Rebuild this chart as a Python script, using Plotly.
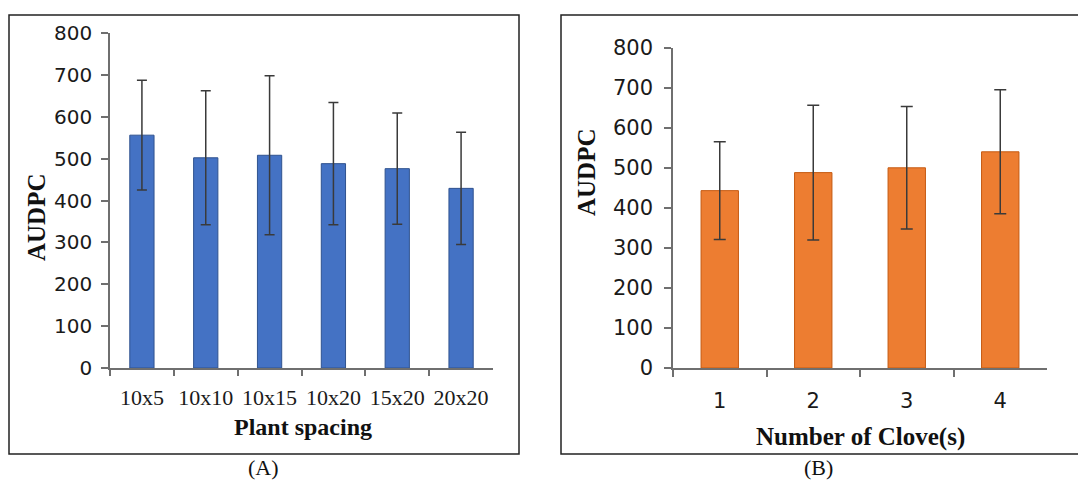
import plotly.graph_objects as go

# Panel A data
spacing = ["10x5", "10x10", "10x15", "10x20", "15x20", "20x20"]
audpc_a = [556, 502, 508, 488, 476, 429]
err_a = [131, 160, 190, 146, 133, 134]

# Panel B data
cloves = ["1", "2", "3", "4"]
audpc_b = [443, 488, 500, 540]
err_b = [122, 168, 153, 155]

# page body has an 8px margin; size the figure so the page fits the window
OFF = 8
W, H = 1086 - 2 * OFF, 489 - 2 * OFF

def px(x):
    return (x - OFF) / W

def py(y):
    return 1 - (y - OFF) / H

fig = go.Figure()

fig.add_trace(go.Bar(
    x=spacing, y=audpc_a, xaxis="x", yaxis="y", width=0.38,
    marker=dict(color="#4472C4", line=dict(color="#2F528F", width=1)),
    error_y=dict(type="data", array=err_a, color="#3a3a3a", thickness=1.5, width=5),
    showlegend=False,
))
fig.add_trace(go.Bar(
    x=cloves, y=audpc_b, xaxis="x2", yaxis="y2", width=0.40,
    marker=dict(color="#ED7D31", line=dict(color="#C55A11", width=1)),
    error_y=dict(type="data", array=err_b, color="#3a3a3a", thickness=1.5, width=6),
    showlegend=False,
))

axis_line = "#6f6f6f"

fig.update_layout(
    width=W, height=H,
    margin=dict(l=0, r=0, t=0, b=0, autoexpand=False),
    paper_bgcolor="white", plot_bgcolor="white",
    xaxis=dict(
        domain=[px(110), px(493)], anchor="y", type="category", automargin=False,
        showline=True, linecolor=axis_line, linewidth=1.5,
        ticks="outside", tickson="boundaries", ticklen=6, tickcolor=axis_line, tickwidth=1.5,
        tickangle=0, ticklabelstandoff=9,
        tickfont=dict(family="Liberation Serif", size=22, color="#1a1a1a"),
        showgrid=False,
    ),
    yaxis=dict(
        domain=[py(368), py(33)], anchor="x", range=[0, 800], dtick=100, automargin=False,
        showline=True, linecolor=axis_line, linewidth=1.5,
        ticks="outside", ticklen=7, tickcolor=axis_line, tickwidth=1.5,
        ticklabelstandoff=5,
        tickfont=dict(family="DejaVu Sans", size=20, color="#1a1a1a"),
        showgrid=False, zeroline=False,
    ),
    xaxis2=dict(
        domain=[px(673), px(1047)], anchor="y2", type="category", automargin=False,
        showline=True, linecolor=axis_line, linewidth=1.5,
        ticks="outside", tickson="boundaries", ticklen=7, tickcolor=axis_line, tickwidth=1.5,
        tickangle=0, ticklabelstandoff=13,
        tickfont=dict(family="DejaVu Sans", size=21, color="#1a1a1a"),
        showgrid=False,
    ),
    yaxis2=dict(
        domain=[py(368), py(47.7)], anchor="x2", range=[0, 800], dtick=100, automargin=False,
        showline=True, linecolor=axis_line, linewidth=1.5,
        ticks="outside", ticklen=7, tickcolor=axis_line, tickwidth=1.5,
        ticklabelstandoff=7,
        tickfont=dict(family="DejaVu Sans", size=21, color="#1a1a1a"),
        showgrid=False, zeroline=False,
    ),
)

# Panel frames
fig.add_shape(type="rect", xref="paper", yref="paper",
              x0=px(9), x1=px(519), y0=py(454), y1=py(15),
              line=dict(color="#222", width=1.5), fillcolor="rgba(0,0,0,0)")
fig.add_shape(type="rect", xref="paper", yref="paper",
              x0=px(561), x1=px(1100), y0=py(454), y1=py(15),
              line=dict(color="#222", width=1.5), fillcolor="rgba(0,0,0,0)")

ann = [
    dict(text="<b>AUDPC</b>", x=px(36), y=py(217), textangle=-90, size=25),
    dict(text="<b>Plant spacing</b>", x=px(303), y=py(427), size=24),
    dict(text="<b>AUDPC</b>", x=px(587), y=py(172), textangle=-90, size=25),
    dict(text="<b>Number of Clove(s)</b>", x=px(860), y=py(437), size=25),
    dict(text="(A)", x=px(263), y=py(467), size=22),
    dict(text="(B)", x=px(818), y=py(467), size=22),
]
for a in ann:
    size = a.pop("size")
    fig.add_annotation(xref="paper", yref="paper", showarrow=False,
                       xanchor="center", yanchor="middle",
                       font=dict(family="Liberation Serif", size=size, color="#111"), **a)

fig.write_html("out.html")
